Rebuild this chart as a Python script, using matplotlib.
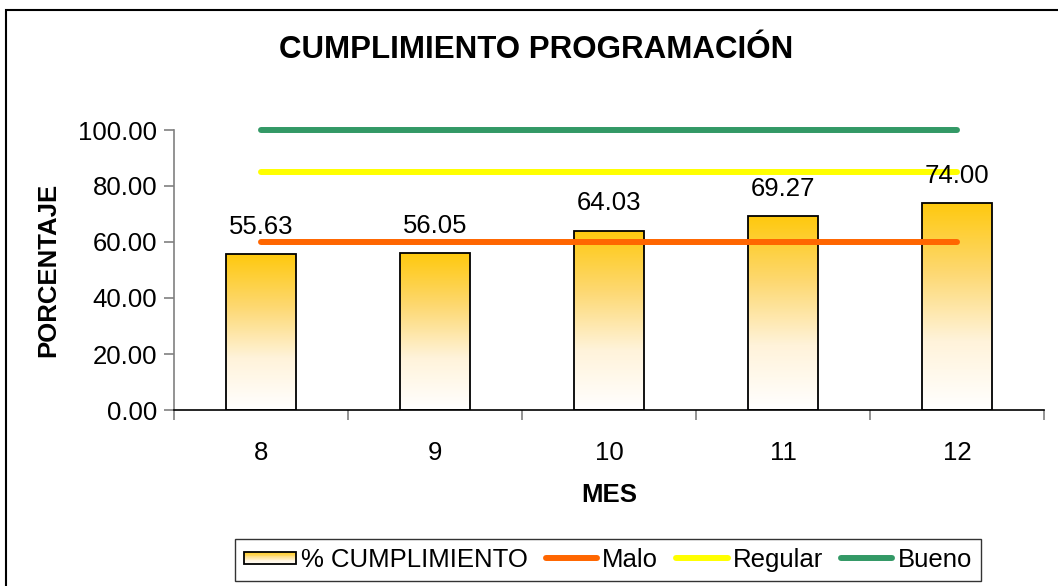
import numpy as np
import matplotlib
matplotlib.use("Agg")
from matplotlib import pyplot as plt
from matplotlib.colors import LinearSegmentedColormap
from matplotlib.patches import Rectangle
from matplotlib.legend_handler import HandlerBase

meses = ["8", "9", "10", "11", "12"]
cumplimiento = [55.63, 56.05, 64.03, 69.27, 74.00]
malo = [60, 60, 60, 60, 60]
regular = [85, 85, 85, 85, 85]
bueno = [100, 100, 100, 100, 100]

plt.rcParams["font.family"] = ["Liberation Sans", "DejaVu Sans"]
FS = 18.5

oro = LinearSegmentedColormap.from_list("oro", ["#FFFFFF", "#FFF3DA", "#FDD870", "#FFC90E"])


class GradientHandler(HandlerBase):
    # legend key: small box with the same vertical gradient as the bars
    def create_artists(self, legend, orig_handle, xdescent, ydescent,
                       width, height, fontsize, trans):
        h = height * 0.7
        y0 = -ydescent + (height - h) / 2
        n = 16
        artists = []
        for i in range(n):
            artists.append(Rectangle((-xdescent, y0 + h * i / n), width, h / n,
                                     facecolor=oro((i + 0.5) / n), edgecolor="none",
                                     transform=trans))
        artists.append(Rectangle((-xdescent, y0), width, h, facecolor="none",
                                 edgecolor="black", lw=1.3, transform=trans))
        return artists


fig = plt.figure(figsize=(10.58, 5.86), dpi=100)
ax = fig.add_axes([174 / 1058, 1 - 410 / 586, 870 / 1058, 280 / 586])

x = np.arange(len(meses))
bars = ax.bar(x, cumplimiento, width=0.4, facecolor="none", edgecolor="black",
              linewidth=1.3, zorder=3, label="% CUMPLIMIENTO")

grad = np.linspace(0, 1, 256).reshape(-1, 1)
for b in bars:
    x0, y0, w, h = b.get_x(), b.get_y(), b.get_width(), b.get_height()
    im = ax.imshow(grad, extent=[x0, x0 + w, y0, y0 + h], origin="lower",
                   cmap=oro, aspect="auto", zorder=2, interpolation="bilinear")
    im.set_clip_path(b)

# reference levels; not clipped so the 100 line is drawn full width at the top edge
l1, = ax.plot(x, malo, color="#FF6600", lw=4.3, solid_capstyle="round", zorder=4,
              clip_on=False, label="Malo")
l2, = ax.plot(x, regular, color="#FFFF00", lw=4.3, solid_capstyle="round", zorder=4,
              clip_on=False, label="Regular")
l3, = ax.plot(x, bueno, color="#339966", lw=4.3, solid_capstyle="round", zorder=4,
              clip_on=False, label="Bueno")

for xi, v in zip(x, cumplimiento):
    ax.annotate(f"{v:.2f}", (xi, v), xytext=(0, 11), textcoords="offset points",
                ha="center", va="bottom", fontsize=FS, zorder=5)

ax.set_xlim(-0.5, len(meses) - 0.5)
ax.set_ylim(0, 100)
ax.set_yticks([0, 20, 40, 60, 80, 100])
ax.set_yticklabels([f"{t:.2f}" for t in [0, 20, 40, 60, 80, 100]], fontsize=FS)
ax.set_xticks(x)
ax.set_xticklabels(meses, fontsize=FS)
ax.tick_params(axis="x", length=0, pad=22)
ax.set_xticks(np.arange(-0.5, len(meses)), minor=True)
ax.tick_params(axis="x", which="minor", length=7, width=1.2, color="#808080")
ax.tick_params(axis="y", length=7, width=1.2, color="#808080", pad=5)

for s in ["top", "right"]:
    ax.spines[s].set_visible(False)
ax.spines["left"].set_color("#808080")
ax.spines["left"].set_linewidth(1.2)
ax.spines["bottom"].set_color("black")
ax.spines["bottom"].set_linewidth(1.2)

ax.set_ylabel("PORCENTAJE", fontsize=FS, fontweight="bold")
ax.yaxis.set_label_coords(-0.131, 0.5)
ax.set_xlabel("MES", fontsize=FS, fontweight="bold")
ax.xaxis.set_label_coords(0.5, -0.26)

fig.text(536 / 1058, 1 - 50 / 586, "CUMPLIMIENTO PROGRAMACIÓN", ha="center", va="center",
         fontsize=22.5, fontweight="bold")

leg = fig.legend([bars, l1, l2, l3], ["% CUMPLIMIENTO", "Malo", "Regular", "Bueno"],
                 loc="center", bbox_to_anchor=(608 / 1058, 1 - 560 / 586),
                 ncol=4, fontsize=FS, frameon=True, fancybox=False,
                 handlelength=2.0, handletextpad=0.2, columnspacing=0.7, borderpad=0.35,
                 handler_map={bars: GradientHandler()})
leg.get_frame().set_edgecolor("black")
leg.get_frame().set_linewidth(1.0)

# outer chart frame (runs past the right and bottom edges)
fig.patches.append(Rectangle((6 / 1058, -0.1), 1.2, 1.1 - 10 / 586, transform=fig.transFigure,
                             facecolor="none", edgecolor="black", lw=1.5, zorder=0))

fig.savefig("out.png", dpi=100)
